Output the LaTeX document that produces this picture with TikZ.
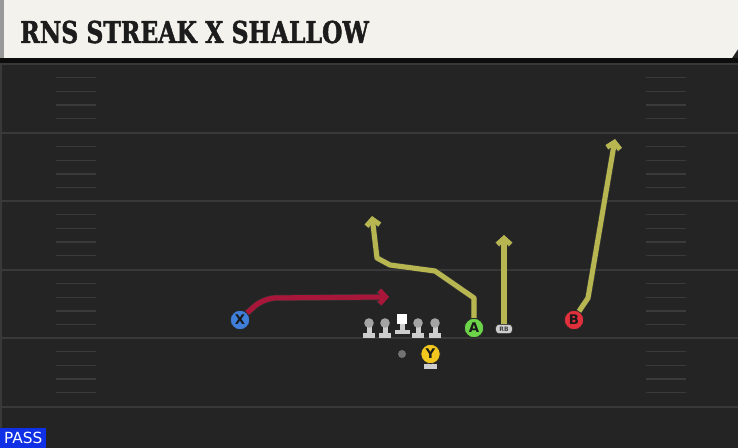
\documentclass[tikz,border=0pt]{standalone}
\usepackage{fontspec}
\newfontfamily\titlefont[FakeStretch=0.78,BoldFeatures={FakeBold=1.4}]{DejaVu Serif}
\newfontfamily\labelfont{DejaVu Sans}
\usetikzlibrary{arrows.meta}
\definecolor{field}{HTML}{242424}
\definecolor{yardgray}{HTML}{393939}
\definecolor{hashgray}{HTML}{3A3A3A}
\definecolor{titlebg}{HTML}{F4F2EC}
\definecolor{titleink}{HTML}{1C1C1C}
\definecolor{routeyellow}{HTML}{B8B650}
\definecolor{routered}{HTML}{A8163A}
\definecolor{xblue}{HTML}{3F7FDA}
\definecolor{agreen}{HTML}{6DD44A}
\definecolor{bred}{HTML}{E0303C}
\definecolor{yyellow}{HTML}{F2C81E}
\definecolor{linegray}{HTML}{CDCDCD}
\definecolor{passblue}{HTML}{1030E6}
\tikzset{
  yardline/.style={yardgray, line width=1.5pt},
  hashmark/.style={hashgray, line width=1pt},
  player/.style={circle, draw=black!85, line width=0.6pt, minimum size=14.5pt, inner sep=0pt,
    font=\labelfont\bfseries\fontsize{10}{10}\selectfont, text=black!90},
  route/.style={line width=3.8pt, line join=round, -{Straight Barb[length=4.5pt,width=10pt]},
    preaction={draw=black!80, line width=4.8pt}},
}

\begin{document}
\begin{tikzpicture}[x=0.75pt,y=-0.75pt]
    \fill[field] (0,0) rectangle (738,448);
    \useasboundingbox (0,0) rectangle (738,448);
    % title bar
    \fill[black!95] (0,58) rectangle (738,63);
    \fill[titlebg] (4,0) -- (738,0) -- (738,49) -- (732,58) -- (4,58) -- cycle;
    \fill[black!40] (0,0) rectangle (4,58);
    \node[anchor=base west, inner sep=0pt, text=titleink,
      font=\titlefont\bfseries\fontsize{22.6}{24}\selectfont] (title) at (20,43) {RNS STREAK X SHALLOW};
    % field
    \fill[yardgray] (0,63) rectangle (2,448);
    \draw[yardline] (0,64) -- (738,64);
    \foreach \y in {133,201,270,338,407}
    {
      \draw[yardline] (0,\y) -- (738,\y);
    }
    \foreach \y in {64,133,201,270,338}
    {
      \foreach \k in {1,2,3,4}
      {
        \draw[hashmark] (56,{\y+13.7*\k}) -- (96,{\y+13.7*\k});
        \draw[hashmark] (646,{\y+13.7*\k}) -- (686,{\y+13.7*\k});
      }
    }
    % offensive line
    \foreach \x in {369,385,418,435}
    {
      \fill[linegray] (\x-6,333) rectangle (\x+6,338);
      \fill[linegray] (\x-2.5,322) rectangle (\x+2.5,333);
      \fill[linegray!80!black] (\x,323) circle (4.8);
    }
    \fill[linegray] (395,330) rectangle (410,334);
    \fill[linegray] (399.5,322) rectangle (404.5,330);
    \fill[white] (397,314) rectangle (407,324);
    \fill[black!55] (402,354) circle (4);
    % skill players
    \node[player, fill=xblue] (X) at (240,320) {X};
    \node[player, fill=agreen] (A) at (474,328) {A};
    \node[player, fill=bred] (B) at (574,320) {B};
    \fill[linegray] (424,364) rectangle (437,369);
    \fill[linegray] (428,360) rectangle (433,364);
    \node[player, fill=yyellow] (Y) at (430.5,354) {Y};
    \node[draw=black!85, fill=linegray, rounded corners=2.5pt, minimum width=12.5pt, minimum height=7pt,
      inner sep=0pt, font=\labelfont\bfseries\fontsize{4.5}{4.5}\selectfont, text=black!75] (RB) at (504,329) {RB};
    % routes
    \coordinate (xend) at (389,297);
    \coordinate (aend) at (372,216);
    \coordinate (rbend) at (504,235);
    \coordinate (bend) at (615,139);
    \draw[route, routered, rounded corners=9pt] (X.north east) -- (264,298) -- (xend);
    \draw[route, routeyellow] (A.north) -- (474,298) -- (435,271) -- (390,265) -- (377,258) -- (aend);
    \draw[route, routeyellow] (RB.north) -- (rbend);
    \draw[route, routeyellow] (B.60) -- (588,298) -- (bend);
    % play type
    \node[anchor=south west, fill=passblue, minimum width=34.5pt, minimum height=15pt, inner sep=0pt,
      text=white, font=\labelfont\fontsize{11.5}{12}\selectfont] (playtype) at (0,448) {PASS};
\end{tikzpicture}
\end{document}
